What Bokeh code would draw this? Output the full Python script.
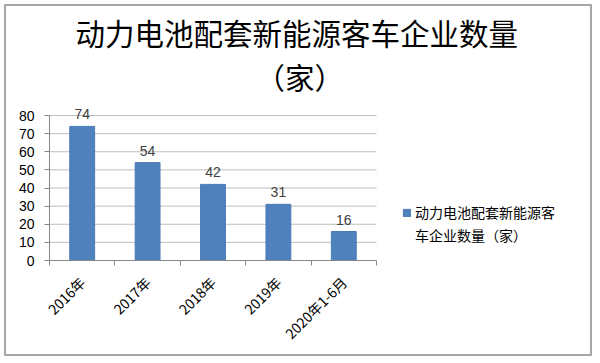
import math
import numpy as np
from bokeh.plotting import figure
from bokeh.models import Range1d, FixedTicker, Legend, LegendItem, LabelSet, Title, ColumnDataSource
from bokeh.core.properties import value
from bokeh.embed import file_html
from bokeh.resources import INLINE

categories = ["2016年", "2017年", "2018年", "2019年", "2020年1-6月"]
values = [74, 54, 42, 31, 16]
y_ticks = [0, 10, 20, 30, 40, 50, 60, 70, 80]
title_line1 = "动力电池配套新能源客车企业数量"
title_line2 = "（家）"
series_line1 = "动力电池配套新能源客"
series_line2 = "车企业数量（家）"

CJK = "Noto Sans CJK SC"
LAT = "Liberation Sans"

W, H = 588, 352
LEFT, RIGHT, TOP, BOTTOM = 43, 8, 93, 98
BAR_AREA_PX = 327          # width of the bar region inside the frame
PLOT_AREA_PX = 145         # height of the 0..80 region inside the frame
frame_w = W - LEFT - RIGHT
frame_h = H - TOP - BOTTOM

n = len(categories)
centers = list(np.arange(n) + 0.5)
bounds = list(np.arange(n + 1).astype(float))
x_end = n * frame_w / BAR_AREA_PX
y_end = y_ticks[-1] * frame_h / PLOT_AREA_PX

p = figure(width=W, height=H, output_backend="svg", toolbar_location=None, title=None,
           x_range=Range1d(0, x_end), y_range=Range1d(y_ticks[0], y_end),
           min_border_left=LEFT, min_border_right=RIGHT, min_border_top=TOP, min_border_bottom=BOTTOM)
p.margin = (4, 0, 0, 4)
p.styles = {"border": "2px solid #a6a6a6", "box-sizing": "border-box"}
p.outline_line_color = None
p.background_fill_color = "white"
p.border_fill_color = "white"

spacer = Title(text=" ", text_font_size="1px", standoff=0)
t2 = Title(text=title_line2, align="left", offset=206, standoff=0, text_font=CJK,
           text_font_size="29.5px", text_font_style="normal", text_color="#000000")
t1 = Title(text=title_line1, align="left", offset=26, standoff=0, text_font=CJK,
           text_font_size="29.5px", text_font_style="normal", text_color="#000000")
p.add_layout(spacer, "above")
p.add_layout(t2, "above")
p.add_layout(t1, "above")

# horizontal gridlines over the bar region only
p.segment(x0=[0] * len(y_ticks), x1=[n] * len(y_ticks), y0=y_ticks, y1=y_ticks,
          line_color="#bfbfbf", line_width=1)

src = ColumnDataSource(dict(x=centers, top=values, lab=[str(v) for v in values]))
r = p.vbar(x="x", top="top", width=0.38, bottom=0, source=src,
           fill_color="#4f81bd", line_color="#4a7ab5", line_width=1)
r2 = p.vbar(x=[], top=[], width=0.38, fill_alpha=0, line_alpha=0)

labels = LabelSet(x="x", y="top", text="lab", source=src, text_align="center",
                  text_baseline="bottom", y_offset=7, text_font=value(LAT),
                  text_font_size=value("14px"), text_color="#404040")
p.add_layout(labels)

xa = p.xaxis[0]
xa.bounds = (0, n)
xa.ticker = FixedTicker(ticks=centers, minor_ticks=bounds)
xa.major_label_overrides = {c: lab for c, lab in zip(centers, categories)}
xa.major_label_orientation = math.pi / 4
xa.major_label_text_font = CJK
xa.major_label_text_font_size = "14px"
xa.major_label_text_color = "#000000"
xa.major_tick_in = 0
xa.major_tick_out = 0
xa.major_label_standoff = 14
xa.minor_tick_in = 0
xa.minor_tick_out = 5
xa.minor_tick_line_color = "#868686"
xa.axis_line_color = "#868686"

ya = p.yaxis[0]
ya.bounds = (y_ticks[0], y_ticks[-1])
ya.ticker = FixedTicker(ticks=y_ticks)
ya.major_label_text_font = LAT
ya.major_label_text_font_size = "14px"
ya.major_label_text_color = "#000000"
ya.major_tick_in = 0
ya.major_tick_out = 5
ya.major_tick_line_color = "#868686"
ya.minor_tick_line_color = None
ya.axis_line_color = "#868686"
ya.major_label_standoff = 10

p.xgrid.grid_line_color = None
p.ygrid.grid_line_color = None

legend = Legend(items=[LegendItem(label=series_line1, renderers=[r]),
                       LegendItem(label=series_line2, renderers=[r2])],
                location=(353, 15), border_line_color=None, background_fill_alpha=0,
                label_text_font=CJK, label_text_font_size="14px", label_text_color="#000000",
                glyph_width=9, glyph_height=9, label_standoff=4, label_height=17,
                spacing=3, padding=0, margin=0)
p.add_layout(legend)

open("out.html", "w").write(file_html(p, INLINE))
